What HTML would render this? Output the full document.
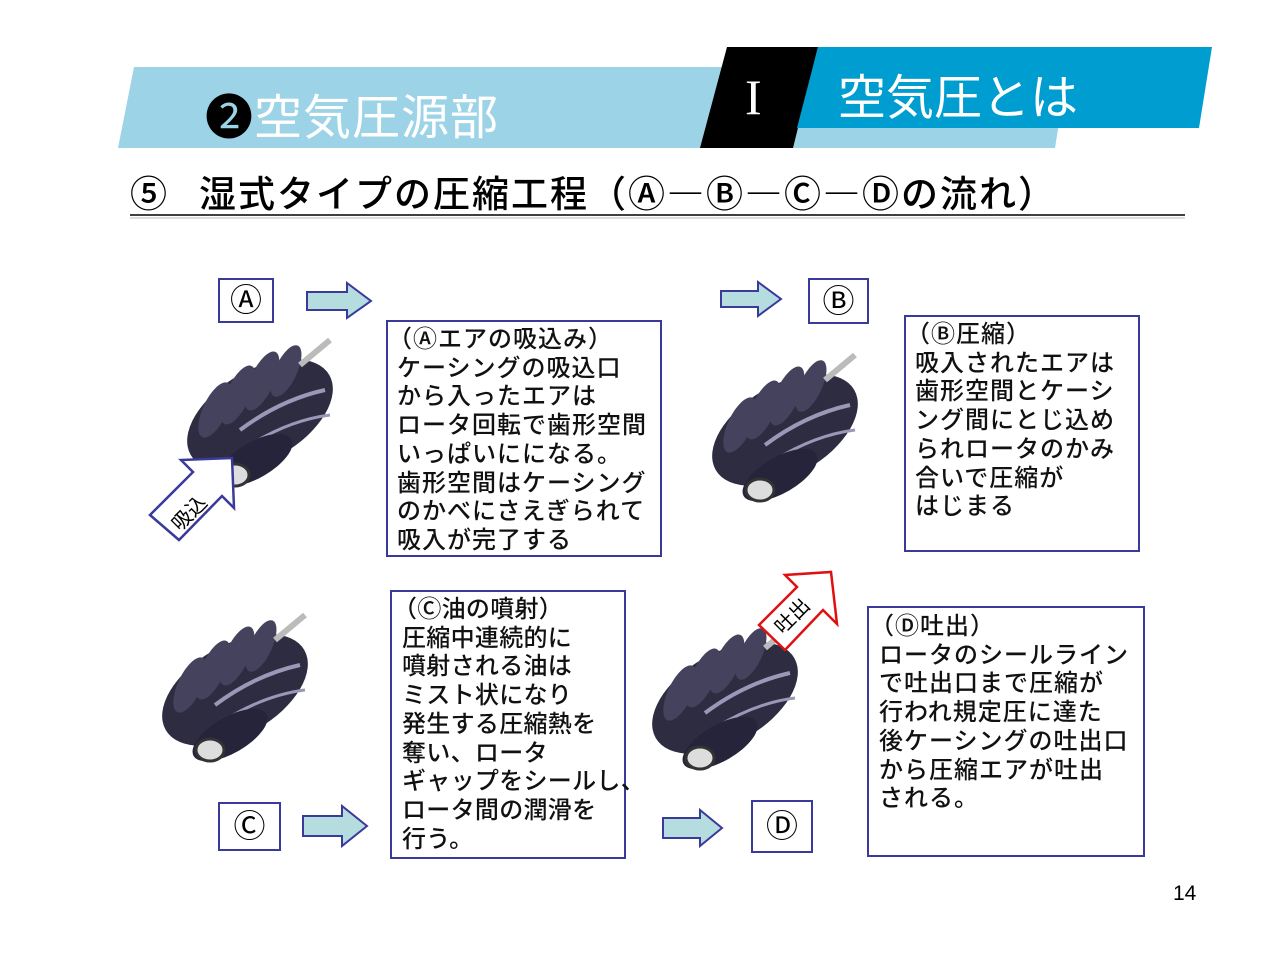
<!DOCTYPE html>
<html><head><meta charset="utf-8"><style>
body{margin:0;width:1278px;height:958px;background:#fff;position:relative;overflow:hidden;font-family:"Liberation Sans","Noto Sans CJK JP",sans-serif}
.t{position:absolute;white-space:nowrap;color:#000}
.box{position:absolute;border:2px solid #3a3a9a;box-sizing:border-box;background:#fff}
.txt{position:absolute;font-size:24px;line-height:28.7px;white-space:pre;color:#111;letter-spacing:1px;font-weight:500}
.p{margin-left:-9px}
.lab{position:absolute;border:2px solid #3a3a9a;box-sizing:border-box;font-size:32px;text-align:center;background:#fff}
</style></head><body>
<svg width="1278" height="958" style="position:absolute;left:0;top:0">
<defs>
<g id="rot">
 <ellipse cx="80" cy="80" rx="80" ry="45" transform="rotate(-30 80 80)" fill="#2e2c40"/>
 <g fill="#45425e">
  <ellipse cx="35" cy="75" rx="12" ry="30" transform="rotate(25 35 75)"/>
  <ellipse cx="58" cy="60" rx="12" ry="32" transform="rotate(25 58 60)"/>
  <ellipse cx="82" cy="46" rx="12" ry="32" transform="rotate(25 82 46)"/>
  <ellipse cx="106" cy="36" rx="11" ry="28" transform="rotate(25 106 36)"/>
 </g>
 <path d="M60 95 Q100 65 145 55" stroke="#9a98b8" stroke-width="4" fill="none"/>
 <path d="M70 110 Q110 85 150 80" stroke="#9a98b8" stroke-width="3" fill="none"/>
 <ellipse cx="75" cy="125" rx="42" ry="18" transform="rotate(-30 75 125)" fill="#26243a"/>
 <ellipse cx="55" cy="140" rx="14" ry="11" fill="#ddd" stroke="#333" stroke-width="3"/>
 <line x1="120" y1="30" x2="150" y2="5" stroke="#bbb" stroke-width="6"/>
</g>
</defs>
<polygon points="134,67 1068,67 1055,148 118,148" fill="#9dd3e7"/>
<polygon points="727,47 818,47 793,148 700,148" fill="#000"/>
<polygon points="818,47 1212,47 1199,128 797,128" fill="#009dd0"/>
<line x1="130" y1="215" x2="1185" y2="215" stroke="#000" stroke-width="1.5"/>
<line x1="130" y1="218" x2="1185" y2="218" stroke="#ddd" stroke-width="2"/>
<g fill="#b5dde0" stroke="#3a3a9a" stroke-width="2">
<polygon points="307,292 347,292 347,283 371,301 347,318 347,310 307,310"/>
<polygon points="721,291 758,291 758,282 781,299 758,316 758,307 721,307"/>
<polygon points="303,816 342,816 342,806 367,826 342,846 342,836 303,836"/>
<polygon points="663,818 700,818 700,810 722,828 700,846 700,838 663,838"/>
</g>
<use href="#rot" x="180" y="335"/>
<use href="#rot" x="705" y="350"/>
<use href="#rot" x="155" y="610"/>
<use href="#rot" x="645" y="618"/>
<polygon points="150,515 193,472 181,460 232,458 234,508 222,496 179,540" fill="#fff" stroke="#3a3a9a" stroke-width="2.5"/>
<text transform="translate(180,532) rotate(-45)" font-size="20" font-family="Liberation Sans,Noto Sans CJK JP,sans-serif">吸込</text>
<polygon points="759,625 797,587 785,575 831,572 837,624 823,610 785,650" fill="#fff" stroke="#e01010" stroke-width="2.5"/>
<text transform="translate(783,635) rotate(-45)" font-size="20" font-family="Liberation Sans,Noto Sans CJK JP,sans-serif">吐出</text>
</svg>
<div class="t" style="left:205px;top:78px;font-size:48px;color:#fff;letter-spacing:1px"><span style="color:#000">❷</span>空気圧源部</div>
<div class="t" style="left:745px;top:68px;font-size:50px;color:#fff;font-family:'Liberation Serif',serif">I</div>
<div class="t" style="left:838px;top:58px;font-size:48px;color:#fff">空気圧とは</div>
<div class="t" style="left:130px;top:164px;font-size:37px;font-family:'Noto Sans CJK JP',sans-serif;font-weight:500;letter-spacing:2px">⑤<span style="margin-left:30px">湿式タイプの圧縮工程（Ⓐ―Ⓑ―Ⓒ―Ⓓの流れ）</span></div>
<div class="lab" style="left:218px;top:278px;width:56px;height:45px;line-height:41px">Ⓐ</div>
<div class="lab" style="left:808px;top:278px;width:61px;height:46px;line-height:42px">Ⓑ</div>
<div class="lab" style="left:218px;top:802px;width:63px;height:49px;line-height:45px">Ⓒ</div>
<div class="lab" style="left:751px;top:800px;width:62px;height:53px;line-height:49px">Ⓓ</div>
<div class="box" style="left:386px;top:320px;width:276px;height:237px"></div>
<div class="txt" style="left:397px;top:326px"><span class="p">（</span>Ⓐエアの吸込み）
ケーシングの吸込口
から入ったエアは
ロータ回転で歯形空間
いっぱいにになる。
歯形空間はケーシング
のかべにさえぎられて
吸入が完了する</div>
<div class="box" style="left:904px;top:315px;width:236px;height:237px"></div>
<div class="txt" style="left:915px;top:321px"><span class="p">（</span>Ⓑ圧縮）
吸入されたエアは
歯形空間とケーシ
ング間にとじ込め
られロータのかみ
合いで圧縮が
はじまる</div>
<div class="box" style="left:390px;top:590px;width:236px;height:269px"></div>
<div class="txt" style="left:402px;top:596px;letter-spacing:0.3px"><span class="p">（</span>Ⓒ油の噴射）
圧縮中連続的に
噴射される油は
ミスト状になり
発生する圧縮熱を
奪い、ロータ
ギャップをシールし、
ロータ間の潤滑を
行う。</div>
<div class="box" style="left:867px;top:606px;width:278px;height:251px"></div>
<div class="txt" style="left:879px;top:613px"><span class="p">（</span>Ⓓ吐出）
ロータのシールライン
で吐出口まで圧縮が
行われ規定圧に達た
後ケーシングの吐出口
から圧縮エアが吐出
される。</div>
<div class="t" style="left:1173px;top:882px;font-size:21px">14</div>
</body></html>
